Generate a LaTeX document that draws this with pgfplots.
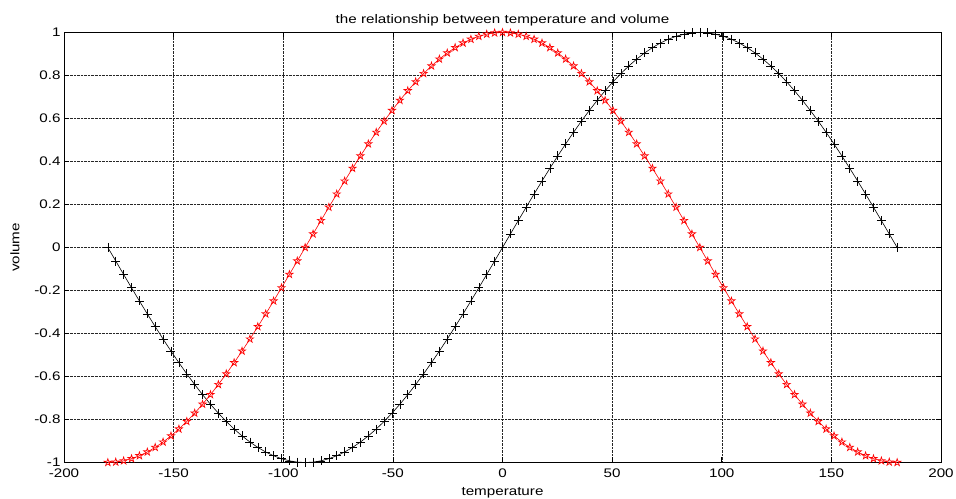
\documentclass[border=0pt]{standalone}
\usepackage{pgfplots}
\pgfplotsset{compat=1.18}
\usepackage{pgfplotstable}
\usepackage{fontspec}
\setmainfont[FakeStretch=1.22]{Liberation Sans}
\pgfdeclareplotmark{pentagram}{%
  \pgfpathmoveto{\pgfpointpolar{90}{\pgfplotmarksize}}%
  \pgfpathlineto{\pgfpointpolar{126}{0.382\pgfplotmarksize}}%
  \pgfpathlineto{\pgfpointpolar{162}{\pgfplotmarksize}}%
  \pgfpathlineto{\pgfpointpolar{198}{0.382\pgfplotmarksize}}%
  \pgfpathlineto{\pgfpointpolar{234}{\pgfplotmarksize}}%
  \pgfpathlineto{\pgfpointpolar{270}{0.382\pgfplotmarksize}}%
  \pgfpathlineto{\pgfpointpolar{306}{\pgfplotmarksize}}%
  \pgfpathlineto{\pgfpointpolar{342}{0.382\pgfplotmarksize}}%
  \pgfpathlineto{\pgfpointpolar{18}{\pgfplotmarksize}}%
  \pgfpathlineto{\pgfpointpolar{54}{0.382\pgfplotmarksize}}%
  \pgfpathclose
  \pgfusepathqstroke}
\pgfplotstableread{
x s c
-180 0 -1
-176.4 -0.0628 -0.9980
-172.8 -0.1253 -0.9921
-169.2 -0.1874 -0.9823
-165.6 -0.2487 -0.9686
-162 -0.3090 -0.9511
-158.4 -0.3681 -0.9298
-154.8 -0.4258 -0.9048
-151.2 -0.4818 -0.8763
-147.6 -0.5358 -0.8443
-144 -0.5878 -0.8090
-140.4 -0.6374 -0.7705
-136.8 -0.6845 -0.7290
-133.2 -0.7290 -0.6845
-129.6 -0.7705 -0.6374
-126 -0.8090 -0.5878
-122.4 -0.8443 -0.5358
-118.8 -0.8763 -0.4818
-115.2 -0.9048 -0.4258
-111.6 -0.9298 -0.3681
-108 -0.9511 -0.3090
-104.4 -0.9686 -0.2487
-100.8 -0.9823 -0.1874
-97.2 -0.9921 -0.1253
-93.6 -0.9980 -0.0628
-90 -1 0
-86.4 -0.9980 0.0628
-82.8 -0.9921 0.1253
-79.2 -0.9823 0.1874
-75.6 -0.9686 0.2487
-72 -0.9511 0.3090
-68.4 -0.9298 0.3681
-64.8 -0.9048 0.4258
-61.2 -0.8763 0.4818
-57.6 -0.8443 0.5358
-54 -0.8090 0.5878
-50.4 -0.7705 0.6374
-46.8 -0.7290 0.6845
-43.2 -0.6845 0.7290
-39.6 -0.6374 0.7705
-36 -0.5878 0.8090
-32.4 -0.5358 0.8443
-28.8 -0.4818 0.8763
-25.2 -0.4258 0.9048
-21.6 -0.3681 0.9298
-18 -0.3090 0.9511
-14.4 -0.2487 0.9686
-10.8 -0.1874 0.9823
-7.2 -0.1253 0.9921
-3.6 -0.0628 0.9980
0 0 1
3.6 0.0628 0.9980
7.2 0.1253 0.9921
10.8 0.1874 0.9823
14.4 0.2487 0.9686
18 0.3090 0.9511
21.6 0.3681 0.9298
25.2 0.4258 0.9048
28.8 0.4818 0.8763
32.4 0.5358 0.8443
36 0.5878 0.8090
39.6 0.6374 0.7705
43.2 0.6845 0.7290
46.8 0.7290 0.6845
50.4 0.7705 0.6374
54 0.8090 0.5878
57.6 0.8443 0.5358
61.2 0.8763 0.4818
64.8 0.9048 0.4258
68.4 0.9298 0.3681
72 0.9511 0.3090
75.6 0.9686 0.2487
79.2 0.9823 0.1874
82.8 0.9921 0.1253
86.4 0.9980 0.0628
90 1 0
93.6 0.9980 -0.0628
97.2 0.9921 -0.1253
100.8 0.9823 -0.1874
104.4 0.9686 -0.2487
108 0.9511 -0.3090
111.6 0.9298 -0.3681
115.2 0.9048 -0.4258
118.8 0.8763 -0.4818
122.4 0.8443 -0.5358
126 0.8090 -0.5878
129.6 0.7705 -0.6374
133.2 0.7290 -0.6845
136.8 0.6845 -0.7290
140.4 0.6374 -0.7705
144 0.5878 -0.8090
147.6 0.5358 -0.8443
151.2 0.4818 -0.8763
154.8 0.4258 -0.9048
158.4 0.3681 -0.9298
162 0.3090 -0.9511
165.6 0.2487 -0.9686
169.2 0.1874 -0.9823
172.8 0.1253 -0.9921
176.4 0.0628 -0.9980
180 0 -1
}\data
\begin{document}
\begin{tikzpicture}
\path[use as bounding box] (-64bp,-36.5bp) rectangle (892bp,462.5bp);
\begin{axis}[
  at={(0,0)}, anchor=south west,
  scale only axis, width=877bp, height=430bp,
  xmin=-200, xmax=200, ymin=-1, ymax=1,
  xtick={-200,-150,-100,-50,0,50,100,150,200},
  ytick={-1,-0.8,-0.6,-0.4,-0.2,0,0.2,0.4,0.6,0.8,1},
  yticklabels={-1,-0.8,-0.6,-0.4,-0.2,0,0.2,0.4,0.6,0.8,1},
  xticklabels={-200,-150,-100,-50,0,50,100,150,200},
  tick align=inside, major tick length=5bp,
  grid=major,
  major grid style={black!85, densely dotted, line width=0.5bp},
  axis line style={black, line width=0.9bp},
  every tick/.style={black, line width=0.6bp},
  tick label style={font=\fontsize{12.5}{14}\selectfont},
  xticklabel style={yshift=-2.5bp},
  label style={font=\fontsize{12.5}{14}\selectfont},
  title style={font=\fontsize{12.5}{14}\selectfont, yshift=-3bp},
  title={the relationship between temperature and volume},
  xlabel={temperature},
  ylabel={volume},
  xlabel style={yshift=-3bp},
  ylabel style={yshift=8bp},
]
\addplot[black, line width=0.6bp, mark=+, mark size=4.5bp, mark options={line width=0.6bp}] table[x=x, y=s] {\data};
\addplot[red, line width=0.6bp, mark=pentagram, mark size=3.8bp, mark options={line width=0.7bp}] table[x=x, y=c] {\data};
\end{axis}
\end{tikzpicture}
\end{document}
